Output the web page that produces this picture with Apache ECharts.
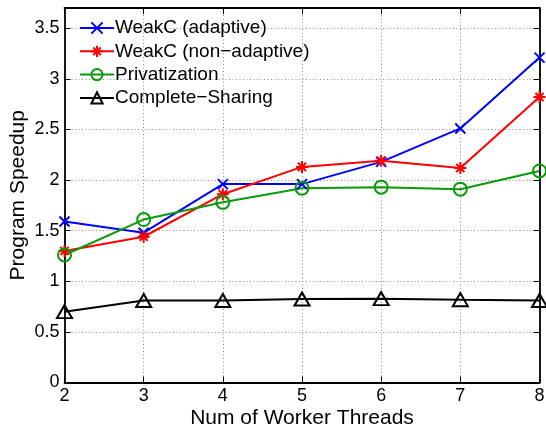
<!DOCTYPE html>
<html>
<head>
<meta charset="utf-8">
<script src="https://cdn.jsdelivr.net/npm/echarts@6/dist/echarts.min.js"></script>
<style>
  html, body { margin: 0; padding: 0; background: #fff; }
  #chart { width: 546px; height: 432px; }
</style>
</head>
<body>
<div id="chart"></div>
<script>
// Worker thread counts on the x axis
const threads = [2, 3, 4, 5, 6, 7, 8];

// Speedup measured for each scheme
const weakcAdaptive    = [1.59, 1.48, 1.96, 1.96, 2.18, 2.51, 3.21];
const weakcNonAdaptive = [1.30, 1.44, 1.86, 2.13, 2.19, 2.12, 2.82];
const privatization    = [1.26, 1.61, 1.78, 1.92, 1.93, 1.91, 2.09];
const completeSharing  = [0.70, 0.81, 0.81, 0.825, 0.828, 0.818, 0.81];

const seriesNames = ['WeakC (adaptive)', 'WeakC (non\u2212adaptive)', 'Privatization', 'Complete\u2212Sharing'];

// Marker shapes: x-cross and asterisk drawn as stroked paths
const crossPath = 'path://M0,0L10,10M10,0L0,10';
const starPath = 'path://M5,0L5,10M0,5L10,5M1.6,1.6L8.4,8.4M8.4,1.6L1.6,8.4';

const FONT = '"Liberation Sans", Arial, Helvetica, sans-serif';

function pairs(ys) {
  return threads.map((x, i) => [x, ys[i]]);
}

function makeSeries(name, ys, color, symbol, size, fill) {
  return {
    name: name,
    type: 'line',
    data: pairs(ys),
    symbol: symbol,
    symbolSize: size,
    showSymbol: true,
    clip: false,
    lineStyle: { color: color, width: 2 },
    itemStyle: { color: fill, borderColor: color, borderWidth: 2 },
    emphasis: { disabled: true },
    z: 3
  };
}

const chart = echarts.init(document.getElementById('chart'), null, { renderer: 'canvas' });

const gridLine = { show: true, lineStyle: { color: '#8a8a8a', type: [1, 2.5], width: 1 } };

chart.setOption({
  animation: false,
  backgroundColor: '#fff',
  textStyle: { fontFamily: FONT },
  grid: { left: 64.5, right: 6.5, top: 8, bottom: 49.5, containLabel: false, outerBoundsMode: 'none' },
  legend: {
    data: seriesNames,
    orient: 'vertical',
    left: 74,
    top: 13,
    itemWidth: 34,
    itemHeight: 14,
    itemGap: 3.3,
    textStyle: { fontFamily: FONT, fontSize: 19, color: '#000', lineHeight: 20, padding: [0, 0, 0, -4] },
    backgroundColor: 'transparent',
    selectedMode: false
  },
  xAxis: [
    {
      type: 'value',
      min: 2, max: 8, interval: 1,
      name: 'Num of Worker Threads',
      nameLocation: 'middle',
      nameGap: 25,
      nameMoveOverlap: false,
      nameTextStyle: { fontFamily: FONT, fontSize: 21, color: '#000' },
      axisLine: { show: true, onZero: false, lineStyle: { color: '#000', width: 1.8 } },
      axisTick: { show: true, inside: true, length: 6, lineStyle: { color: '#000', width: 1 } },
      axisLabel: { fontFamily: FONT, fontSize: 18, color: '#000', margin: 5 },
      splitLine: gridLine
    },
    {
      type: 'value',
      position: 'top',
      min: 2, max: 8, interval: 1,
      axisLine: { show: true, onZero: false, lineStyle: { color: '#000', width: 1.8 } },
      axisTick: { show: true, inside: true, length: 6, lineStyle: { color: '#000', width: 1 } },
      axisLabel: { show: false },
      splitLine: { show: false }
    }
  ],
  yAxis: [
    {
      type: 'value',
      min: 0, max: 3.7, interval: 0.5,
      name: 'Program Speedup',
      nameLocation: 'middle',
      nameGap: 36,
      nameMoveOverlap: false,
      nameTextStyle: { fontFamily: FONT, fontSize: 21, color: '#000' },
      axisLine: { show: true, onZero: false, lineStyle: { color: '#000', width: 1.8 } },
      axisTick: { show: true, inside: true, length: 6, lineStyle: { color: '#000', width: 1 } },
      axisLabel: {
        fontFamily: FONT, fontSize: 18, color: '#000', margin: 5,
        showMaxLabel: false,
        formatter: v => (Math.abs(v - 3.7) < 1e-9 ? '' : String(v))
      },
      splitLine: gridLine
    },
    {
      type: 'value',
      position: 'right',
      min: 0, max: 3.7, interval: 0.5,
      axisLine: { show: true, onZero: false, lineStyle: { color: '#000', width: 1.8 } },
      axisTick: { show: true, inside: true, length: 6, lineStyle: { color: '#000', width: 1 } },
      axisLabel: { show: false },
      splitLine: { show: false }
    }
  ],
  series: [
    makeSeries(seriesNames[0], weakcAdaptive, '#0000ff', crossPath, 10, '#0000ff'),
    makeSeries(seriesNames[1], weakcNonAdaptive, '#ff0000', starPath, 12, '#ff0000'),
    makeSeries(seriesNames[2], privatization, '#0a9a0a', 'circle', 13, 'rgba(255,255,255,0)'),
    makeSeries(seriesNames[3], completeSharing, '#000000', 'triangle', [15, 13], 'rgba(255,255,255,0)')
  ]
});
</script>
</body>
</html>
